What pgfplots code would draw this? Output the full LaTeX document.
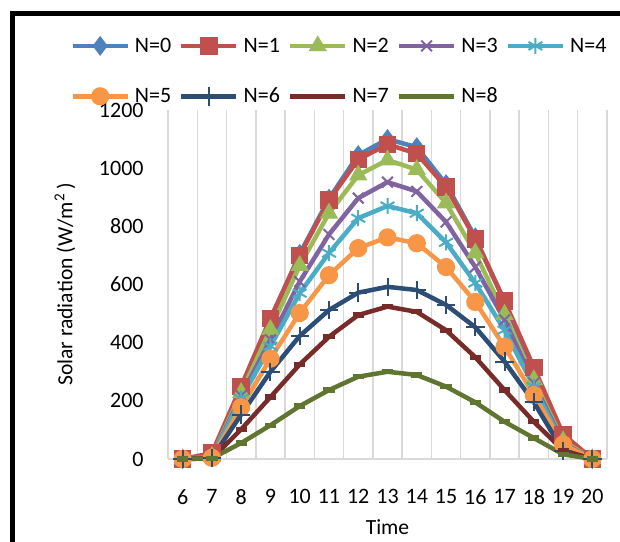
\documentclass[border=0pt]{standalone}
\usepackage{pgfplots}
\pgfplotsset{compat=1.18}
\usepackage{fontspec}
\setmainfont{Carlito}
\definecolor{cA}{HTML}{4F81BD}
\definecolor{cB}{HTML}{C0504D}
\definecolor{cC}{HTML}{9BBB59}
\definecolor{cD}{HTML}{8064A2}
\definecolor{cE}{HTML}{4BACC6}
\definecolor{cF}{HTML}{F79646}
\definecolor{cG}{HTML}{2C4D75}
\definecolor{cH}{HTML}{772C2A}
\definecolor{cI}{HTML}{5F7530}
\definecolor{gridgray}{HTML}{D9D9D9}
\begin{document}
\begin{tikzpicture}
\useasboundingbox (0,0) rectangle (310pt,270.5pt);
\draw[line width=2.5pt] (6.25pt,-10pt) -- (6.25pt,263.5pt) -- (330pt,263.5pt);
\begin{axis}[
 at={(84pt,41pt)}, anchor=south west,
 width=219.5pt, height=174.5pt, scale only axis,
 xmin=5.5, xmax=20.5, ymin=0, ymax=1200,
 xtick={6,...,20}, ytick={0,200,...,1200},
 minor xtick={5.5,6.5,...,20.5}, xminorgrids=true,
 minor grid style={gridgray, line width=0.75pt},
 extra y ticks={0}, extra y tick labels={},
 extra y tick style={ymajorgrids=true, major grid style={gridgray, line width=0.75pt}},
 axis line style={draw=none},
 tick style={draw=none}, major tick length=0pt, minor tick length=0pt,
 /pgf/number format/assume math mode=true,
 /pgf/number format/1000 sep={},
 tick label style={font=\fontsize{11}{13}\selectfont, inner sep=0pt},
 xticklabel style={yshift=-15pt},
 yticklabel style={xshift=-12pt},
 xlabel={Time}, ylabel={Solar radiation (W/m\textsuperscript{2}\,)},
 label style={font=\fontsize{10.8}{12}\selectfont, inner sep=0pt},
 xlabel style={at={(axis description cs:0.5,-0.1948)}, anchor=center},
 ylabel style={at={(axis description cs:-0.2346,0.5)}, anchor=center},
 clip=false,
 legend columns=5,
 legend style={at={(-0.2232,1.112)}, anchor=west, draw=none, fill=none, inner sep=0pt,
   column sep=2.5pt, row sep=16pt, font=\fontsize{11}{13}\selectfont,
   nodes={inner sep=0pt, text height=7pt, text depth=0.5pt}},
 legend cell align=left,
 /tikz/every even column/.append style={column sep=4pt},
 legend image code/.code={\draw[mark repeat=2,mark phase=2] plot coordinates {(0pt,0pt)(13.75pt,0pt)(27.5pt,0pt)};},
 every axis plot/.append style={line width=2.25pt},
]
\addplot[color=cA, mark=diamond*, mark size=4.6pt, mark options={line width=0.5pt, fill=cA}] coordinates {(6,0)(7,10)(8,240)(9,478)(10,705)(11,895)(12,1045)(13,1100)(14,1072)(15,945)(16,762)(17,540)(18,305)(19,75)(20,0)};
\addlegendentry{N=0}
\addplot[color=cB, mark=square*, mark size=4.1pt, mark options={line width=0.5pt, fill=cB}] coordinates {(6,0)(7,20)(8,250)(9,484)(10,700)(11,890)(12,1030)(13,1082)(14,1050)(15,935)(16,757)(17,543)(18,315)(19,85)(20,0)};
\addlegendentry{N=1}
\addplot[color=cC, mark=triangle*, mark size=4.8pt, mark options={line width=0.5pt, fill=cC}] coordinates {(6,0)(7,8)(8,228)(9,445)(10,665)(11,845)(12,976)(13,1028)(14,995)(15,880)(16,708)(17,497)(18,272)(19,62)(20,0)};
\addlegendentry{N=2}
\addplot[color=cD, mark=x, mark size=3.8pt, mark options={line width=1pt}] coordinates {(6,0)(7,6)(8,218)(9,410)(10,610)(11,772)(12,897)(13,952)(14,920)(15,815)(16,660)(17,478)(18,261)(19,55)(20,0)};
\addlegendentry{N=3}
\addplot[color=cE, mark=asterisk, mark size=4pt, mark options={line width=1pt}] coordinates {(6,0)(7,5)(8,208)(9,388)(10,570)(11,708)(12,828)(13,870)(14,845)(15,745)(16,605)(17,443)(18,249)(19,48)(20,0)};
\addlegendentry{N=4}
\addplot[color=cF, mark=*, mark size=4.3pt, mark options={line width=0.5pt, fill=cF}] coordinates {(6,0)(7,4)(8,178)(9,345)(10,502)(11,632)(12,725)(13,762)(14,742)(15,660)(16,540)(17,386)(18,220)(19,50)(20,0)};
\addlegendentry{N=5}
\addplot[color=cG, mark=+, mark size=4.6pt, mark options={line width=1pt}] coordinates {(6,0)(7,3)(8,153)(9,300)(10,423)(11,512)(12,572)(13,592)(14,581)(15,530)(16,453)(17,335)(18,195)(19,28)(20,0)};
\addlegendentry{N=6}
\addplot[color=cH, mark=-, mark size=2.8pt, mark options={line width=2.6pt}] coordinates {(6,0)(7,2)(8,102)(9,213)(10,325)(11,420)(12,495)(13,524)(14,506)(15,443)(16,350)(17,237)(18,128)(19,30)(20,0)};
\addlegendentry{N=7}
\addplot[color=cI, mark=-, mark size=2.8pt, mark options={line width=2.6pt}] coordinates {(6,0)(7,2)(8,55)(9,116)(10,182)(11,237)(12,283)(13,300)(14,289)(15,249)(16,195)(17,128)(18,72)(19,16)(20,0)};
\addlegendentry{N=8}
\end{axis}
\end{tikzpicture}
\end{document}
